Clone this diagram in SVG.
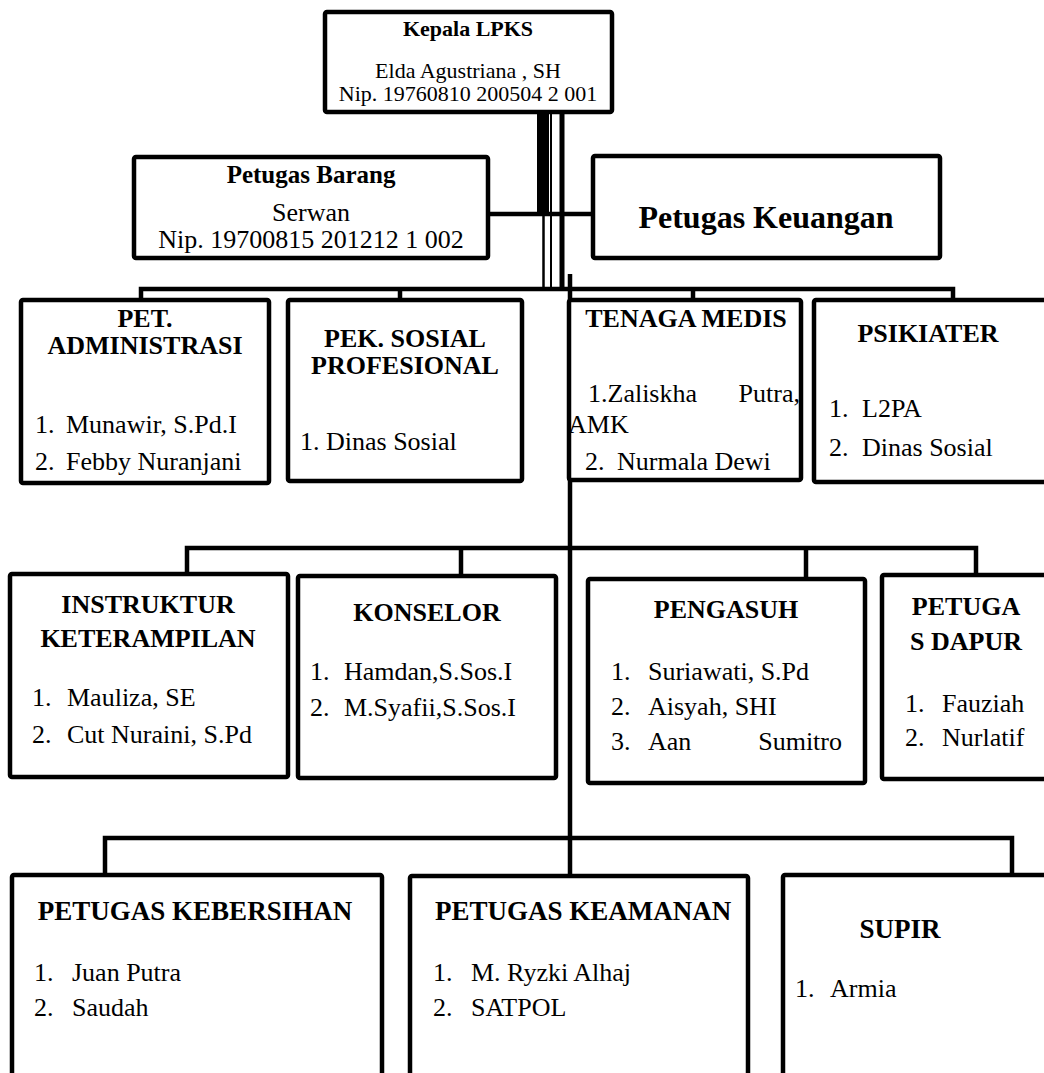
<svg xmlns="http://www.w3.org/2000/svg" width="1044" height="1073" viewBox="0 0 1044 1073">
<style>
.box{fill:#fff;stroke:#000;stroke-width:4.5}
.ln{stroke:#000;stroke-width:4.5;fill:none}
text{font-family:"Liberation Serif","Times New Roman",serif;font-size:26px;fill:#000}
.b{font-weight:bold}
.c{text-anchor:middle}
.e{text-anchor:end}
.s{font-size:22px}
.h4{font-size:27px}
</style>
<rect width="1044" height="1073" fill="#fff"/>
<g id="connectors">
<rect x="537" y="112" width="12" height="102" fill="#000"/>
<line class="ln" x1="551" y1="112" x2="551" y2="289" style="stroke-width:2"/>
<line class="ln" x1="562" y1="112" x2="562" y2="289" style="stroke-width:5"/>
<line class="ln" x1="543.5" y1="214" x2="543.5" y2="289" style="stroke-width:2.5"/>
<line class="ln" x1="488" y1="214" x2="593" y2="214"/>
<polyline class="ln" points="141,300 141,289 953,289 953,300"/>
<line class="ln" x1="400" y1="289" x2="400" y2="300"/>
<line class="ln" x1="693" y1="289" x2="693" y2="300"/>
<line class="ln" x1="570" y1="274" x2="570" y2="876"/>
<polyline class="ln" points="187,573 187,548 976,548 976,575"/>
<line class="ln" x1="461" y1="548" x2="461" y2="577"/>
<line class="ln" x1="806" y1="548" x2="806" y2="579"/>
<polyline class="ln" points="105,876 105,838 1012,838 1012,875"/>
</g>
<g id="kepala">
<rect class="box" x="325" y="12" width="287" height="100" rx="2"/>
<text class="b c s" x="468" y="36">Kepala LPKS</text>
<text class="c s" x="468" y="78">Elda Agustriana , SH</text>
<text class="c s" x="468" y="101">Nip. 19760810 200504 2 001</text>
</g>
<g id="barang">
<rect class="box" x="134" y="157" width="354" height="101" rx="2"/>
<text class="b c" x="311" y="183" style="font-size:25px">Petugas Barang</text>
<text class="c" x="311" y="221">Serwan</text>
<text class="c" x="311" y="248">Nip. 19700815 201212 1 002</text>
</g>
<g id="keuangan">
<rect class="box" x="593" y="156" width="347" height="102" rx="2"/>
<text class="b c" x="766" y="228" style="font-size:32px">Petugas Keuangan</text>
</g>
<g id="administrasi">
<rect class="box" x="21" y="300" width="248" height="183" rx="2"/>
<text class="b c" x="145" y="327">PET.</text>
<text class="b c" x="145" y="354">ADMINISTRASI</text>
<text x="35" y="433">1.</text><text x="66" y="433">Munawir, S.Pd.I</text>
<text x="35" y="470">2.</text><text x="66" y="470">Febby Nuranjani</text>
</g>
<g id="pekerja-sosial">
<rect class="box" x="288" y="300" width="234" height="181" rx="2"/>
<text class="b c" x="405" y="347">PEK. SOSIAL</text>
<text class="b c" x="405" y="374">PROFESIONAL</text>
<text x="300" y="450">1. Dinas Sosial</text>
</g>
<g id="tenaga-medis">
<rect class="box" x="569" y="300" width="232" height="180" rx="2"/>
<text class="b c" x="686" y="327">TENAGA MEDIS</text>
<text x="588" y="402">1.Zaliskha</text><text class="e" x="800" y="402">Putra,</text>
<text x="568" y="433">AMK</text>
<text x="585" y="470">2.</text><text x="617" y="470">Nurmala Dewi</text>
</g>
<g id="psikiater">
<rect class="box" x="814" y="300" width="240" height="182" rx="2"/>
<text class="b c" x="928" y="342">PSIKIATER</text>
<text x="829" y="417">1.</text><text x="862" y="417">L2PA</text>
<text x="829" y="456">2.</text><text x="862" y="456">Dinas Sosial</text>
</g>
<g id="instruktur">
<rect class="box" x="10" y="574" width="278" height="203" rx="2"/>
<text class="b c" x="148" y="613">INSTRUKTUR</text>
<text class="b c" x="148" y="647">KETERAMPILAN</text>
<text x="32" y="706">1.</text><text x="67" y="706">Mauliza, SE</text>
<text x="32" y="743">2.</text><text x="67" y="743">Cut Nuraini, S.Pd</text>
</g>
<g id="konselor">
<rect class="box" x="298" y="576" width="258" height="202" rx="2"/>
<text class="b c" x="427" y="621">KONSELOR</text>
<text x="310" y="680">1.</text><text x="344" y="680">Hamdan,S.Sos.I</text>
<text x="310" y="716">2.</text><text x="344" y="716">M.Syafii,S.Sos.I</text>
</g>
<g id="pengasuh">
<rect class="box" x="588" y="579" width="277" height="204" rx="2"/>
<text class="b c" x="726" y="618">PENGASUH</text>
<text x="611" y="680">1.</text><text x="648" y="680">Suriawati, S.Pd</text>
<text x="611" y="715">2.</text><text x="648" y="715">Aisyah, SHI</text>
<text x="611" y="750">3.</text><text x="648" y="750">Aan</text><text class="e" x="842" y="750">Sumitro</text>
</g>
<g id="dapur">
<rect class="box" x="882" y="575" width="180" height="204" rx="2"/>
<text class="b c" x="966" y="615">PETUGA</text>
<text class="b c" x="966" y="650">S DAPUR</text>
<text x="905" y="712">1.</text><text x="942" y="712">Fauziah</text>
<text x="905" y="746">2.</text><text x="942" y="746">Nurlatif</text>
</g>
<g id="kebersihan">
<rect class="box" x="12" y="875" width="370" height="220" rx="2"/>
<text class="b c h4" x="195" y="920">PETUGAS KEBERSIHAN</text>
<text x="34" y="981">1.</text><text x="72" y="981">Juan Putra</text>
<text x="34" y="1016">2.</text><text x="72" y="1016">Saudah</text>
</g>
<g id="keamanan">
<rect class="box" x="410" y="876" width="338" height="220" rx="2"/>
<text class="b h4" x="435" y="920">PETUGAS KEAMANAN</text>
<text x="433" y="981">1.</text><text x="471" y="981">M. Ryzki Alhaj</text>
<text x="433" y="1016">2.</text><text x="471" y="1016">SATPOL</text>
</g>
<g id="supir">
<rect class="box" x="783" y="875" width="280" height="220" rx="2"/>
<text class="b c h4" x="900" y="938">SUPIR</text>
<text x="795" y="997">1.</text><text x="830" y="997">Armia</text>
</g>
</svg>
